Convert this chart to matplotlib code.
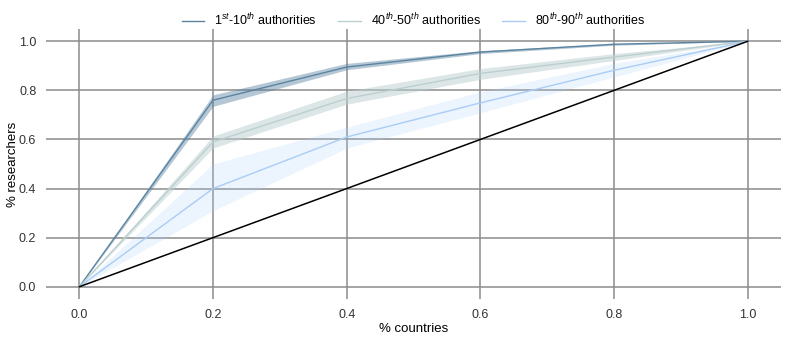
import numpy as np
import matplotlib
matplotlib.use("Agg")
import matplotlib.pyplot as plt

plt.rcParams['font.family'] = ['Liberation Sans', 'DejaVu Sans']
plt.rcParams['mathtext.fontset'] = 'custom'
plt.rcParams['mathtext.it'] = 'Liberation Sans:italic'
plt.rcParams['mathtext.rm'] = 'Liberation Sans'

# data
countries = [0.0, 0.2, 0.4, 0.6, 0.8, 1.0]

top_mean = [0.0, 0.76, 0.895, 0.956, 0.988, 1.0]
top_low = [0.0, 0.735, 0.884, 0.950, 0.984, 1.0]
top_high = [0.0, 0.782, 0.910, 0.962, 0.991, 1.0]

mid_mean = [0.0, 0.59, 0.767, 0.869, 0.936, 1.0]
mid_low = [0.0, 0.565, 0.744, 0.845, 0.922, 1.0]
mid_high = [0.0, 0.614, 0.797, 0.889, 0.950, 1.0]

low_mean = [0.0, 0.40, 0.61, 0.749, 0.882, 1.0]
low_low = [0.0, 0.31, 0.565, 0.709, 0.855, 1.0]
low_high = [0.0, 0.50, 0.65, 0.794, 0.910, 1.0]

labels = [r'1$^{st}$-10$^{th}$ authorities',
          r'40$^{th}$-50$^{th}$ authorities',
          r'80$^{th}$-90$^{th}$ authorities']
colors = ['#5b84a1', '#bccfcf', '#a9cdf6']

fig = plt.figure(figsize=(7.89, 3.40), dpi=100)
ax = fig.add_axes([0.0583, 0.1206, 0.9316, 0.794])

series = [(top_mean, top_low, top_high),
          (mid_mean, mid_low, mid_high),
          (low_mean, low_low, low_high)]
alphas = [0.45, 0.5, 0.22]
for (m, lo, hi), c, lab, a in zip(series, colors, labels, alphas):
    ax.plot(countries, m, color=c, lw=1.0, label=lab, zorder=3)
    ax.fill_between(countries, lo, hi, color=c, alpha=a, lw=0, zorder=2)

ax.plot([0, 1], [0, 1], color='black', lw=1.1, zorder=3)

ax.set_xlim(-0.05, 1.05)
ax.set_ylim(-0.05, 1.05)
ax.set_xticks(countries)
ax.set_yticks(countries)
ax.set_xticklabels(['%.1f' % v for v in countries])
ax.set_yticklabels(['%.1f' % v for v in countries])
ax.grid(True, color='#8c8c8c', lw=1.1)
ax.set_axisbelow(True)
for s in ax.spines.values():
    s.set_visible(False)
ax.tick_params(length=0, labelsize=9, colors='#333333', pad=7)
ax.set_xlabel('% countries', fontsize=9.5, labelpad=2)
ax.set_ylabel('% researchers', fontsize=9.5, labelpad=0)

ax.legend(loc='lower center', bbox_to_anchor=(0.5, 0.985), ncol=3,
          frameon=False, fontsize=9, handlelength=1.8, handletextpad=0.8,
          columnspacing=1.7, borderaxespad=0)

fig.savefig('out.png', dpi=100)
